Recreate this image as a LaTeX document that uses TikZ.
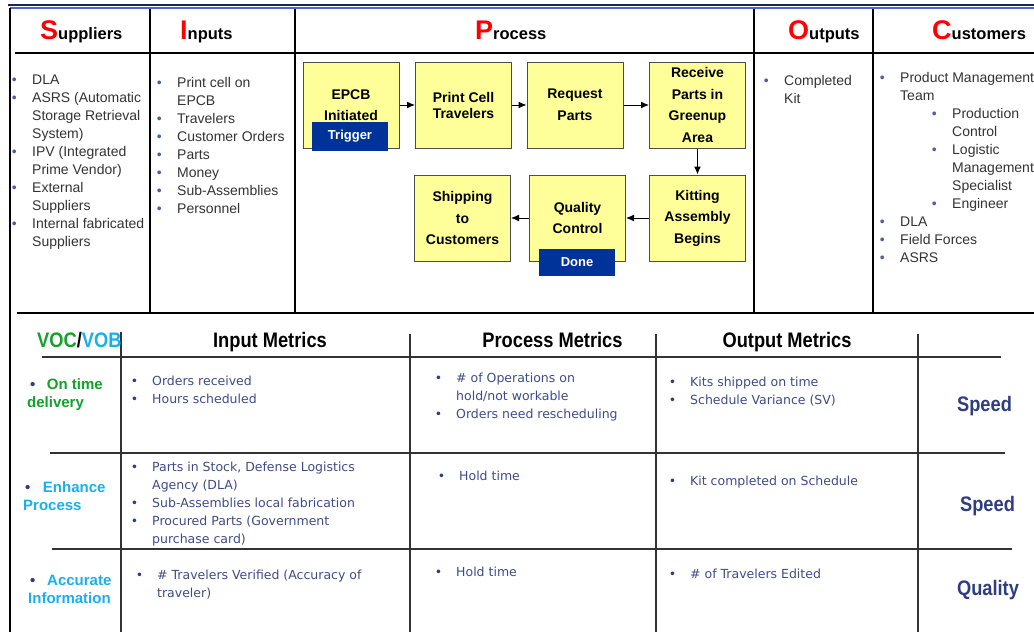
\documentclass[tikz,border=0pt]{standalone}
\usepackage{fontspec}
\setmainfont{Liberation Sans}
\newfontfamily\metfont{DejaVu Sans}
\newfontfamily\narrowfont[FakeStretch=0.87]{Liberation Sans}
\usetikzlibrary{arrows.meta}

\definecolor{boxyellow}{HTML}{FFFF99}
\definecolor{boxgray}{HTML}{4D4D4D}
\definecolor{navy}{HTML}{003399}
\definecolor{listgray}{HTML}{333333}
\definecolor{bulletblue}{HTML}{4A5FA5}
\definecolor{metblue}{HTML}{3F4B88}
\definecolor{speedblue}{HTML}{2F3D80}
\definecolor{vocgreen}{HTML}{13A02B}
\definecolor{vobcyan}{HTML}{1AAFEC}
\definecolor{rulenavy}{HTML}{1C2550}
\definecolor{ruleblue}{HTML}{4A66D6}
\definecolor{rulegray}{HTML}{333333}

\newcommand{\capletter}[1]{{\fontsize{27}{27}\selectfont\color{red}#1}}
\newcommand{\blt}[1][15.5pt]{\llap{\textcolor{bulletblue}{\textbullet}\hspace{#1}}}
\newcommand{\mblt}{\llap{\textcolor{speedblue}{\textbullet}\hspace{14pt}}}

% multi-line nodes sit on the baseline of their last line
\tikzset{
  head/.style={anchor=base west, inner sep=0pt, font=\bfseries\fontsize{16.5}{18}\selectfont},
  listtext/.style={anchor=base west, align=left, inner sep=0pt, text=listgray, font=\fontsize{14}{18}\selectfont},
  stepbox/.style={draw=boxgray, line width=1pt, fill=boxyellow, minimum width=96pt, minimum height=86pt,
    inner sep=0pt, align=center, font=\bfseries\fontsize{14}{21.5}\selectfont},
  tagbox/.style={fill=navy, text=white, minimum width=76pt, inner sep=0pt, font=\bfseries\fontsize{13}{13}\selectfont},
  flow/.style={-{Latex[length=8pt, width=7pt]}, line width=1pt},
  mhead/.style={anchor=base, inner sep=0pt, font=\narrowfont\bfseries\fontsize{21}{21}\selectfont},
  vocrow/.style={anchor=base west, align=left, inner sep=0pt, font=\bfseries\fontsize{15}{18}\selectfont},
  mettext/.style={anchor=base west, align=left, inner sep=0pt, text=metblue, font=\metfont\fontsize{12.5}{18.5}\selectfont},
  rating/.style={anchor=base, inner sep=0pt, text=speedblue, font=\narrowfont\bfseries\fontsize{21}{21}\selectfont},
  rule/.style={rulegray, line width=1.2pt}
}

\begin{document}
\begin{tikzpicture}[x=1pt, y=-1pt]
\useasboundingbox (0,0) rectangle (1034,632);

% SIPOC frame
\draw[rulenavy, line width=2pt] (8,5) -- (1034,5);
\draw[ruleblue, line width=1.2pt] (10,8) -- (1034,8);
\draw[line width=2pt] (10,8) -- (10,632);
\draw[line width=2pt] (15,53) -- (1034,53);
\draw[line width=2.5pt] (17,313) -- (1034,313);
\foreach \x in {150,295,754,873}
  \draw[line width=2pt] (\x,9) -- (\x,313);

% column titles
\node[head] (supp) at (40,39.5) {\capletter{S}uppliers};
\node[head] (inp) at (180,39.5) {\capletter{I}nputs};
\node[head] (proc) at (475,39.5) {\capletter{P}rocess};
\node[head] (outp) at (788,39.5) {\capletter{O}utputs};
\node[head] (cust) at (932,39.5) {\capletter{C}ustomers};

% lists
\node[listtext] (supplist) at (32,246) {\blt DLA\\\blt ASRS (Automatic\\Storage Retrieval\\System)\\\blt IPV (Integrated\\Prime Vendor)\\\blt External\\Suppliers\\\blt Internal fabricated\\Suppliers};
\node[listtext] (inplist) at (177,213) {\blt Print cell on\\EPCB\\\blt Travelers\\\blt Customer Orders\\\blt Parts\\\blt Money\\\blt Sub-Assemblies\\\blt Personnel};
\node[listtext] (outlist) at (784,103) {\blt Completed\\Kit};
\node[listtext] (custlist) at (900,262) {\blt Product Management\\Team\\\hspace*{52pt}\blt Production\\\hspace*{52pt}Control\\\hspace*{52pt}\blt Logistic\\\hspace*{52pt}Management\\\hspace*{52pt}Specialist\\\hspace*{52pt}\blt Engineer\\\blt DLA\\\blt Field Forces\\\blt ASRS};

% process steps
\node[stepbox] (epcb) at (351,105) {EPCB\\Initiated};
\node[stepbox, font=\bfseries\fontsize{14}{16}\selectfont] (printcell) at (463.5,105) {Print Cell\\Travelers};
\node[stepbox] (request) at (575,105) {Request\\Parts};
\node[stepbox] (receive) at (697.5,105) {Receive\\Parts in\\Greenup\\Area};
\node[stepbox] (kitting) at (697.5,218) {Kitting\\Assembly\\Begins};
\node[stepbox] (quality) at (577.5,218) {Quality\\Control};
\node[stepbox] (shipping) at (462.5,218) {Shipping\\to\\Customers};
\node[tagbox, minimum height=29pt] (trigger) at (350,136.5) {Trigger};
\node[tagbox, minimum height=27pt] (done) at (577,262.5) {Done};

\draw[flow] (epcb) -- (printcell);
\draw[flow] (printcell) -- (request);
\draw[flow] (request) -- (receive);
\draw[flow] (receive) -- (kitting);
\draw[flow] (kitting) -- (quality);
\draw[flow] (quality) -- (shipping);

% metrics table
\draw[rule] (42,357) -- (1001,357);
\draw[rule] (50,453) -- (1005,453);
\draw[rule] (52,549) -- (1012,549);
\draw[rule] (121,332) -- (121,632);
\foreach \x in {410,656,918}
  \draw[rule] (\x,334) -- (\x,632);

\node[mhead, anchor=base west] (voc) at (37,347) {\textcolor{vocgreen}{VOC}/\textcolor{vobcyan}{VOB}};
\node[mhead] (inmet) at (270,347) {Input Metrics};
\node[mhead] (procmet) at (552.5,347) {Process Metrics};
\node[mhead] (outmet) at (787,347) {Output Metrics};

\node[vocrow, text=vocgreen] (ontime) at (27,407) {\hspace*{3pt}\textcolor{speedblue}{\textbullet}\hspace{11.5pt}On time\\delivery};
\node[vocrow, text=vobcyan] (enhance) at (23,510) {\hspace*{2pt}\textcolor{speedblue}{\textbullet}\hspace{12.5pt}Enhance\\Process};
\node[vocrow, text=vobcyan] (accurate) at (28,603) {\hspace*{2pt}\textcolor{speedblue}{\textbullet}\hspace{11.75pt}Accurate\\Information};

\node[mettext] (in1) at (152,403.5) {\mblt Orders received\\\mblt Hours scheduled};
\node[mettext, font=\metfont\fontsize{12.5}{18}\selectfont] (in2) at (152,543) {\mblt Parts in Stock, Defense Logistics\\Agency (DLA)\\\mblt Sub-Assemblies local fabrication\\\mblt Procured Parts (Government\\purchase card)};
\node[mettext] (in3) at (157,597.5) {\mblt \# Travelers Verified (Accuracy of\\traveler)};
\node[mettext, font=\metfont\fontsize{12.5}{18}\selectfont] (proc1) at (456,418) {\mblt \# of Operations on\\hold/not workable\\\mblt Orders need rescheduling};
\node[mettext] (proc2) at (459,480) {\mblt Hold time};
\node[mettext] (proc3) at (456,576) {\mblt Hold time};
\node[mettext] (out1) at (690,404.5) {\mblt Kits shipped on time\\\mblt Schedule Variance (SV)};
\node[mettext] (out2) at (690,485) {\mblt Kit completed on Schedule};
\node[mettext] (out3) at (690,578) {\mblt \# of Travelers Edited};

\node[rating] (speed1) at (984.5,411) {Speed};
\node[rating] (speed2) at (987.5,511) {Speed};
\node[rating] (qual) at (988,595) {Quality};
\end{tikzpicture}
\end{document}
